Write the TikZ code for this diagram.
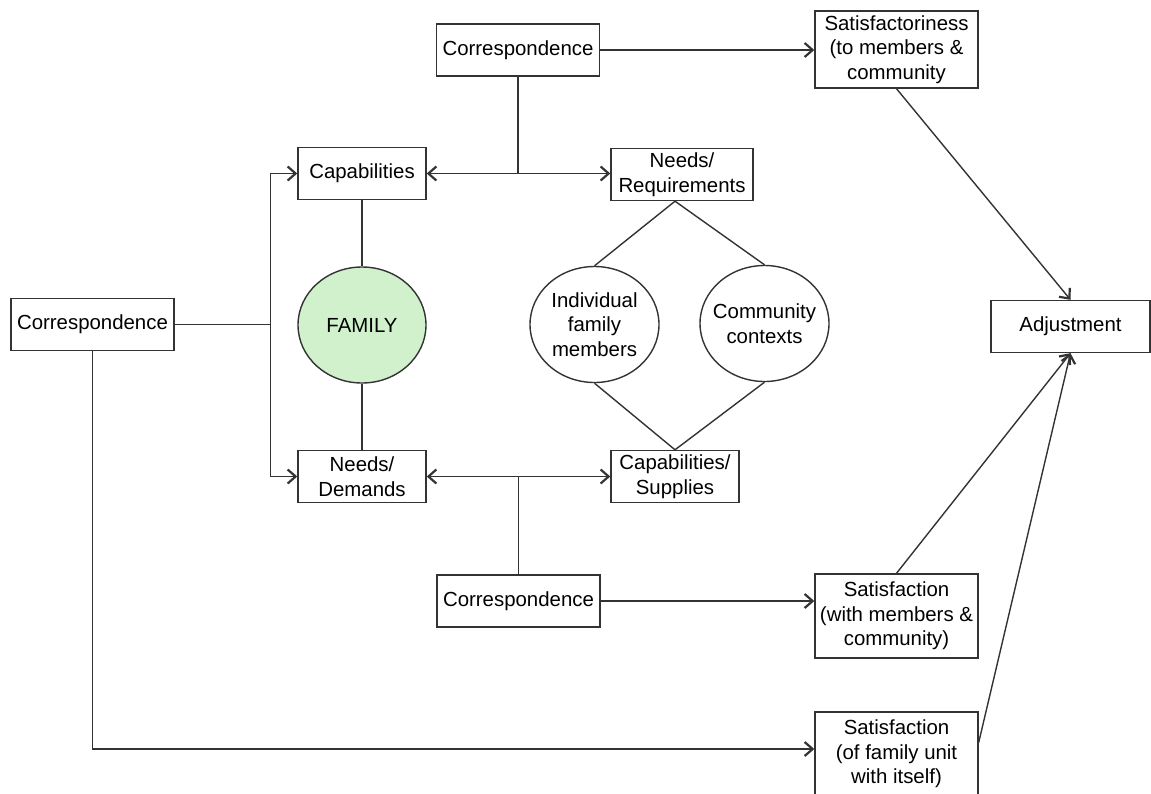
\documentclass[tikz,border=0pt]{standalone}
\usepackage{fontspec}
\setmainfont{Liberation Sans}
\usetikzlibrary{shapes.geometric,arrows.meta,calc}
\definecolor{familygreen}{RGB}{208,241,204}

\begin{document}
\begin{tikzpicture}[x=0.5pt,y=-0.5pt,
  font=\fontsize{10.2}{12.3}\selectfont,
  conn/.style={draw=black!80, line width=0.7pt},
  arr/.style={conn, -{Straight Barb[length=4pt,width=7pt,line width=1.1pt]}},
  darr/.style={conn, {Straight Barb[length=4pt,width=7pt,line width=1.1pt]}-{Straight Barb[length=4pt,width=7pt,line width=1.1pt]}},
  box/.style={draw=black!80, line width=0.7pt, align=center, inner sep=1pt, minimum height=26pt},
  oval/.style={ellipse, draw=black!80, line width=0.7pt, align=center, inner xsep=-8pt, inner ysep=0pt,
    minimum width=64.5pt, minimum height=58pt}]
\useasboundingbox (0,0) rectangle (1151,793);

% draw nodes
% 1 unit is one pixel of the page
\node[box, minimum width=81.5pt] (corrTop) at (518,50) {Correspondence};
\node[box, minimum width=81.5pt, minimum height=38.5pt] (satTop) at (896.5,49.5)
  {Satisfactoriness\\(to members \&\\community};

\node[box, minimum width=64pt] (cap) at (362,173.5) {Capabilities};
\node[box, minimum width=71pt] (needsReq) at (682,174.5) {Needs/\\Requirements};

\node[box, minimum width=81.5pt] (corrLeft) at (92.5,324.5) {Correspondence};
\node[oval, fill=familygreen, minimum width=64pt] (family) at (362,325) {FAMILY};
\node[oval] (indiv) at (594.5,324.5) {Individual\\family\\members};
\node[oval] (comm) at (764.5,323.5) {Community\\contexts};
\node[box, minimum width=79.5pt] (adjust) at (1070.5,326.5) {Adjustment};

\node[box, minimum width=64pt] (needsDem) at (362,476.5) {Needs/\\Demands};
\node[box, minimum width=64pt] (capSup) at (675,476.5) {Capabilities/\\Supplies};

\node[box, minimum width=81.5pt] (corrBot) at (518.5,601) {Correspondence};
\node[box, minimum width=81.5pt, minimum height=42pt] (satMid) at (896.5,616)
  {Satisfaction\\(with members \&\\community)};
\node[box, minimum width=81.5pt, minimum height=42pt] (satBot) at (896.5,754)
  {Satisfaction\\(of family unit\\with itself)};

% draw connectors
\coordinate (fork) at ($(corrLeft.east)+(96,0)$);
\draw[arr] (corrTop.east) -- (corrTop.east -| satTop.west);
\draw[darr] (cap.east) -- (cap.east -| needsReq.west);
\draw[conn] (corrTop.south) -- (corrTop.south |- cap.east);

\draw[conn] (corrLeft.east) -- (fork);
\draw[arr] (fork) |- (cap.west);
\draw[arr] (fork) |- (needsDem.west);
\draw[conn] (cap.south) -- (family.north);
\draw[conn] (family.south) -- (needsDem.north);

\coordinate (apex) at (needsReq.south -| capSup.north);
\draw[conn] (apex) -- (indiv.north);
\draw[conn] (apex) -- (comm.north);
\draw[conn] (indiv.south) -- (capSup.north);
\draw[conn] (comm.south) -- (capSup.north);

\draw[darr] (needsDem.east) -- (capSup.west);
\draw[conn] (corrBot.north |- needsDem.east) -- (corrBot.north);
\draw[arr] (corrBot.east) -- (corrBot.east -| satMid.west);
\draw[arr] (corrLeft.south) |- ([yshift=2.5pt]satBot.west);

\draw[arr] (satTop.south) -- (adjust.north);
\draw[arr] (satMid.north) -- (adjust.south);
\draw[arr] (satBot.8) -- (adjust.south);

\end{tikzpicture}
\end{document}
